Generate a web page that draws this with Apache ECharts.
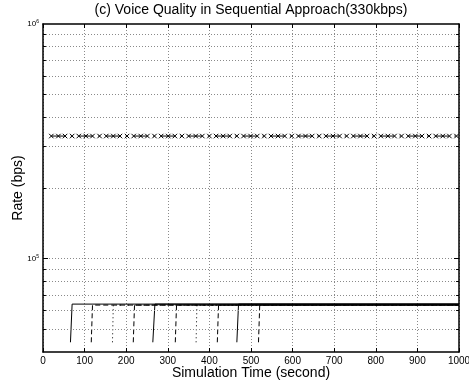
<!DOCTYPE html>
<html><head><meta charset="utf-8">
<script src="https://cdn.jsdelivr.net/npm/echarts@6/dist/echarts.min.js"></script>
<style>html,body{margin:0;padding:0;background:#fff}#c{width:469px;height:383px}</style>
</head><body><div id="c"></div>
<script>
// ---- text ----
const titleText = '(c) Voice Quality in Sequential Approach(330kbps)';
const xName = 'Simulation Time (second)';
const yName = 'Rate (bps)';

// ---- axes ----
const xMin = 0, xMax = 1000, xStep = 100;
const yMin = 40000, yMax = 1000000;
const yDecadeLabels = [100000, 1000000];
const yGridRates = [50000, 60000, 70000, 80000, 90000, 100000,
  200000, 300000, 400000, 500000, 600000, 700000, 800000, 900000];

// ---- aggregate rate (dash-dot with x markers) ----
const aggTimes = [20, 37, 53, 70, 86, 103, 119, 136, 152, 169, 185, 202, 218, 235, 251,
  268, 284, 301, 317, 334, 350, 367, 383, 400, 416, 433, 449, 466, 482, 499,
  515, 532, 548, 565, 581, 598, 614, 631, 647, 664, 680, 697, 713, 730, 746,
  763, 779, 796, 812, 829, 845, 862, 878, 895, 911, 928, 944, 961, 977, 994];
const aggRates = [333000, 333000, 333000, 333000, 333000, 333000, 333000, 333000, 333000, 333000,
  333000, 333000, 333000, 333000, 333000, 333000, 333000, 333000, 333000, 333000,
  333000, 333000, 333000, 333000, 333000, 333000, 333000, 333000, 333000, 333000,
  333000, 333000, 333000, 333000, 333000, 333000, 333000, 333000, 333000, 333000,
  333000, 333000, 333000, 333000, 333000, 333000, 333000, 333000, 333000, 333000,
  333000, 333000, 333000, 333000, 333000, 333000, 333000, 333000, 333000, 333000];

// ---- individual voice flows: [time, rate] points ----
const solidFlows = [
  [[66, 44000], [70, 64000], [1000, 64000]],
  [[264, 44000], [269, 64000], [1000, 64000]],
  [[466, 44000], [470, 64000], [1000, 64000]]
];
const dashedFlows = [
  [[116, 44000], [119, 63400], [1000, 63400]],
  [[217, 44000], [220, 63400], [1000, 63400]],
  [[318, 44000], [321, 63400], [1000, 63400]],
  [[419, 44000], [422, 63400], [1000, 63400]],
  [[518, 44000], [521, 63400], [1000, 63400]]
];
const dottedFlows = [
  [[167, 44000], [169, 63400], [1000, 63400]],
  [[368, 44000], [370, 63400], [1000, 63400]]
];

const FONT = 'Liberation Sans';
const series = [];

// grid lines + minor ticks (helper series)
const gridLineData = yGridRates.map(v => ({ yAxis: v }));
const minorTickData = [];
yGridRates.forEach(v => {
  const len = (v === 100000) ? 12 : 7;
  minorTickData.push([{ coord: [xMin, v] }, { coord: [xMin + len, v] }]);
  minorTickData.push([{ coord: [xMax - len, v] }, { coord: [xMax, v] }]);
});
series.push({
  type: 'line', data: [], z: 1, silent: true,
  markLine: {
    silent: true, symbol: 'none', label: { show: false }, animation: false,
    lineStyle: { color: '#8a8a8a', type: [1, 2], width: 1 },
    data: gridLineData
  }
});
series.push({
  type: 'line', data: [], z: 5, silent: true,
  markLine: {
    silent: true, symbol: 'none', label: { show: false }, animation: false,
    lineStyle: { color: '#000', type: 'solid', width: 1 },
    data: minorTickData
  }
});

series.push({
  type: 'line', z: 4,
  data: aggTimes.map((t, i) => [t, aggRates[i]]),
  showSymbol: true, symbol: 'path://M0,0L10,10M10,0L0,10', symbolSize: 4.5,
  itemStyle: { color: 'rgba(0,0,0,0)', borderColor: '#000', borderWidth: 1 },
  lineStyle: { color: '#000', width: 1, type: [14, 5.5, 1.5, 6.4] },
  animation: false
});

function addFlows(list, type) {
  list.forEach(d => series.push({
    type: 'line', z: 3, data: d, showSymbol: false, symbol: 'none',
    lineStyle: { color: '#000', width: 1, type: type }, animation: false
  }));
}
addFlows(solidFlows, 'solid');
addFlows(dashedFlows, [5, 3]);
addFlows(dottedFlows, [1, 3]);

const chart = echarts.init(document.getElementById('c'), null, { renderer: 'canvas' });
chart.setOption({
  animation: false,
  backgroundColor: '#fff',
  textStyle: { fontFamily: FONT },
  title: {
    text: titleText, left: 251, textAlign: 'center', top: 3, padding: 0,
    textStyle: { fontFamily: FONT, fontSize: 14, fontWeight: 'normal', color: '#000' }
  },
  grid: { left: 43, right: 10, top: 24, bottom: 31, outerBoundsMode: 'none', containLabel: false },
  xAxis: [{
    type: 'value', min: xMin, max: xMax, interval: xStep, position: 'bottom',
    name: xName, nameLocation: 'middle', nameGap: 14, nameMoveOverlap: false,
    nameTextStyle: { fontFamily: FONT, fontSize: 14, color: '#000' },
    axisLine: { show: true, lineStyle: { color: '#000', width: 1.5 } },
    axisTick: { show: true, inside: true, length: 4, lineStyle: { color: '#000' } },
    axisLabel: { fontFamily: FONT, fontSize: 10, color: '#000', margin: 4, formatter: v => String(v) },
    splitLine: { show: true, lineStyle: { color: '#8a8a8a', type: [1, 2], width: 1 } }
  }, {
    type: 'value', min: xMin, max: xMax, interval: xStep, position: 'top',
    axisLine: { show: true, onZero: false, lineStyle: { color: '#000', width: 1.5 } },
    axisTick: { show: true, inside: true, length: 4, lineStyle: { color: '#000' } },
    axisLabel: { show: false }, splitLine: { show: false }
  }],
  yAxis: [{
    type: 'log', logBase: 10, min: yMin, max: yMax, position: 'left',
    name: yName, nameLocation: 'middle', nameGap: 18, nameRotate: 90, nameMoveOverlap: false,
    nameTextStyle: { fontFamily: FONT, fontSize: 14, color: '#000' },
    axisLine: { show: true, onZero: false, lineStyle: { color: '#000', width: 1.5 } },
    axisTick: { show: false },
    splitLine: { show: false },
    axisLabel: {
      margin: 4, color: '#000', fontFamily: FONT, fontSize: 8,
      formatter: function (v) {
        for (const d of yDecadeLabels) {
          if (Math.abs(v - d) / d < 1e-6) return '10{s|' + Math.round(Math.log10(d)) + '}';
        }
        return '';
      },
      rich: { s: { fontSize: 5, fontFamily: FONT, color: '#000', verticalAlign: 'top', padding: [0, 0, 5, 0] } }
    }
  }, {
    type: 'log', logBase: 10, min: yMin, max: yMax, position: 'right',
    axisLine: { show: true, onZero: false, lineStyle: { color: '#000', width: 1.5 } },
    axisTick: { show: false }, axisLabel: { show: false }, splitLine: { show: false }
  }],
  series: series
});
</script>
</body></html>
